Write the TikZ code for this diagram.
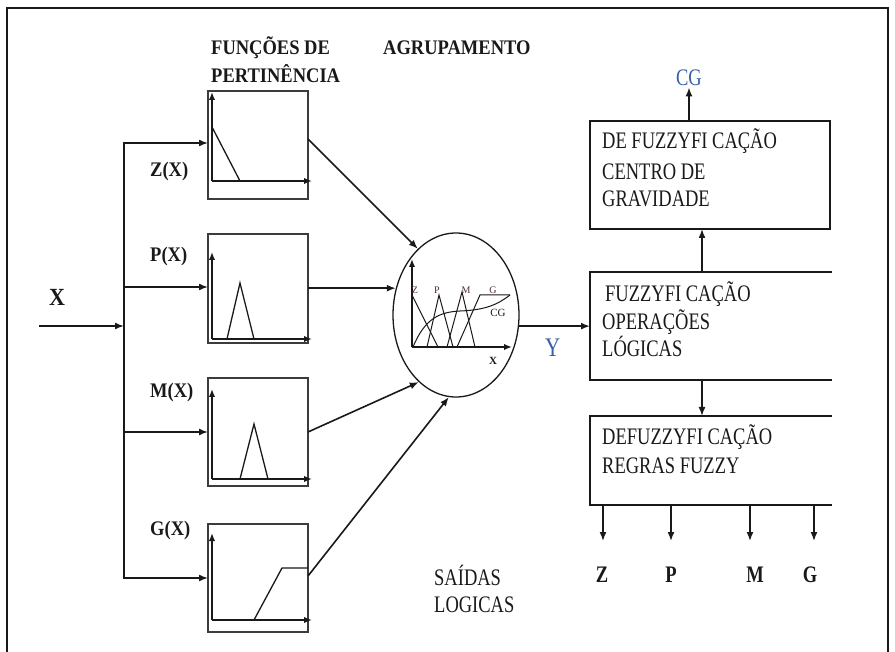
\documentclass[tikz,border=0pt]{standalone}
\usepackage{fontspec}
\setmainfont{Liberation Serif}
\usetikzlibrary{arrows.meta,shapes.geometric}
\definecolor{lblue}{RGB}{55,95,170}
\definecolor{ink}{RGB}{25,25,25}
\definecolor{boxc}{RGB}{60,60,60}
\definecolor{tiny}{RGB}{80,40,60}
\newcommand{\vst}[1]{\scalebox{1}[1.28]{#1}}
\newcommand{\vsb}[1]{\scalebox{1}[1.12]{#1}}
\begin{document}
\begin{tikzpicture}[x=1pt,y=-1pt,
  arr/.style={-{Latex[length=9pt,width=7pt]}, line width=1.6pt, draw=ink},
  axarr/.style={-{Latex[length=8pt,width=6.5pt]}, line width=2.2pt, draw=ink},
  plotl/.style={line width=1.3pt, draw=ink},
  fbox/.style={draw=boxc, line width=1.9pt, minimum width=100pt, inner sep=0, outer sep=0},
  rbox/.style={minimum width=240pt, inner sep=0, outer sep=0},
  ttl/.style={font=\fontsize{18.5}{20}\selectfont\bfseries, inner sep=0, anchor=base west, text=ink},
  lab/.style={font=\fontsize{18.5}{20}\selectfont\bfseries, inner sep=0, anchor=base west, text=ink},
  txt/.style={font=\fontsize{18.5}{20}\selectfont, inner sep=0, anchor=base west, text=ink},
  small/.style={font=\fontsize{10}{11}\selectfont, inner sep=0, text=tiny},
]
\useasboundingbox (0,0) rectangle (895,652);
% outer frame
\draw[line width=2pt, draw=ink] (7,652) -- (7,8) -- (888,8) -- (888,652);

% titles
\node[ttl] (t1) at (211,55) {\vsb{FUNÇÕES DE}};
\node[ttl] (t2) at (211,83) {\vsb{PERTINÊNCIA}};
\node[ttl] (t3) at (383,55) {\vsb{AGRUPAMENTO}};

% input
\node[lab, font=\fontsize{22}{24}\selectfont\bfseries] (xl) at (49,306) {\vsb{X}};
\coordinate (xin) at (39,326);
\coordinate (bin) at (124,326);
\draw[arr] (xin) -- (bin);
\coordinate (bt0) at (124,142);
\coordinate (bb0) at (124,579);
\draw[line width=1.6pt, draw=ink] (bt0) -- (bb0);
\coordinate (jz) at (124,143);
\coordinate (jp) at (124,287);
\coordinate (jm) at (124,432);
\coordinate (jg) at (124,578);

% membership boxes
\node[fbox, minimum height=108pt] (bz) at (258,145) {};
\node[fbox, minimum height=109pt] (bp) at (258,288.5) {};
\node[fbox, minimum height=108pt] (bm) at (258,432) {};
\node[fbox, minimum height=108pt] (bg) at (258,578) {};

\draw[arr] (jz) -- (jz -| bz.west);
\draw[arr] (jp) -- (jp -| bp.west);
\draw[arr] (jm) -- (jm -| bm.west);
\draw[arr] (jg) -- (jg -| bg.west);

% labels
\node[lab] (lzx) at (150,177) {\vsb{Z(X)}};
\node[lab] (lpx) at (150,262) {\vsb{P(X)}};
\node[lab] (lmx) at (150,398) {\vsb{M(X)}};
\node[lab] (lgx) at (150,535) {\vsb{G(X)}};

% plots in boxes
% Z
\draw[axarr] (212,181) -- (212,92);
\draw[axarr] (212,181) -- (312,181);
\draw[plotl] (212,127) -- (240,181);
% P
\draw[axarr] (212,339) -- (212,252);
\draw[axarr] (212,339) -- (312,339);
\draw[plotl] (227,339) -- (240,283) -- (254,339);
% M
\draw[axarr] (212,479) -- (212,389);
\draw[axarr] (212,479) -- (312,479);
\draw[plotl] (240,479) -- (254,424) -- (268,479);
% G
\draw[axarr] (212,620) -- (212,533);
\draw[axarr] (212,620) -- (312,620);
\draw[plotl] (254,620) -- (282,568) -- (308,568);

% grouping ellipse
\node[ellipse, draw=ink, line width=1.3pt, minimum width=126pt, minimum height=164pt, inner sep=0] (circ) at (456,315) {};
\draw[arr] (bz.east |- 0,139) -- (circ.120);
\draw[arr] (bp.east |- circ.156) -- (circ.156);
\draw[arr] (bm.east |- 0,432) -- (circ.241);
\draw[arr] (bg.east |- 0,576) -- (circ.265);

% inside ellipse
\draw[axarr, line width=2pt] (412,347) -- (412,259);
\draw[axarr, line width=2pt] (412,347) -- (512,347);
\draw[plotl, line width=1pt] (412,295) -- (438,347);
\draw[plotl, line width=1pt] (427,347) -- (439,295) -- (453,347);
\draw[plotl, line width=1pt] (447,347) -- (462,292) -- (475,347);
\draw[plotl, line width=1pt] (457,347) -- (480,295) -- (510,295);
\draw[plotl, line width=1pt] (413,347) .. controls (425,318) and (440,312) .. (460,311) .. controls (485,310) and (497,305) .. (510,295);
\node[small] (iz) at (415,290) {Z};
\node[small] (ip) at (437,290) {P};
\node[small] (im) at (466,290) {M};
\node[small] (ig) at (493,290) {G};
\node[small, font=\fontsize{11}{12}\selectfont, text=ink] (icg) at (498,313) {CG};
\node[small, font=\fontsize{11}{12}\selectfont\bfseries, text=ink] (ix) at (493,361) {X};

% right boxes
\node[rbox, draw=ink, line width=1.9pt, minimum height=108pt] (rt) at (710,175) {};
\node[rbox, minimum height=108pt] (rm) at (710,326) {};
\node[rbox, minimum height=89pt] (rb) at (710,460.5) {};
\draw[line width=1.9pt, draw=ink] ([xshift=2pt]rm.north east) -- (rm.north west) -- (rm.south west) -- ([xshift=2pt]rm.south east);
\draw[line width=1.9pt, draw=ink] ([xshift=2pt]rb.north east) -- (rb.north west) -- (rb.south west) -- ([xshift=2pt]rb.south east);

\node[txt] (rt1) at (602,149) {\vst{DE FUZZYFI CAÇÃO}};
\node[txt] (rt2) at (602,180) {\vst{CENTRO DE}};
\node[txt] (rt3) at (602,207) {\vst{GRAVIDADE}};
\node[txt] (rm1) at (605,302) {\vst{FUZZYFI CAÇÃO}};
\node[txt] (rm2) at (602,330) {\vst{OPERAÇÕES}};
\node[txt] (rm3) at (602,357) {\vst{LÓGICAS}};
\node[txt] (rb1) at (602,445) {\vst{DEFUZZYFI CAÇÃO}};
\node[txt] (rb2) at (602,473) {\vst{REGRAS FUZZY}};

% Y and CG
\draw[arr] (circ.-10) -- (rm.west |- circ.-10);
\node[txt, font=\fontsize{21}{22}\selectfont, text=lblue] (yl) at (545,357) {\vst{Y}};
\node[txt, anchor=base, text=lblue, inner sep=1pt] (cg) at (689,86) {\vst{CG}};
\draw[arr] ([xshift=-21pt]rt.north) -- (cg.south);
\draw[arr] ([xshift=-8pt]rm.north) -- ([xshift=-8pt]rt.south);
\draw[arr] ([xshift=-8pt]rm.south) -- ([xshift=-8pt]rb.north);

% outputs
\coordinate (oz) at (603,541);
\coordinate (op) at (671,541);
\coordinate (om) at (750,541);
\coordinate (og) at (814,541);
\draw[arr] (rb.south -| oz) -- (oz);
\draw[arr] (rb.south -| op) -- (op);
\draw[arr] (rb.south -| om) -- (om);
\draw[arr] (rb.south -| og) -- (og);
\node[lab, anchor=base] (lz) at (602,582) {\vst{Z}};
\node[lab, anchor=base] (lp) at (671,582) {\vst{P}};
\node[lab, anchor=base] (lm) at (755,582) {\vst{M}};
\node[lab, anchor=base] (lg) at (810,582) {\vst{G}};

% saidas
\node[txt] (s1) at (434,585) {\vst{SAÍDAS}};
\node[txt] (s2) at (434,612) {\vst{LOGICAS}};
\end{tikzpicture}
\end{document}
